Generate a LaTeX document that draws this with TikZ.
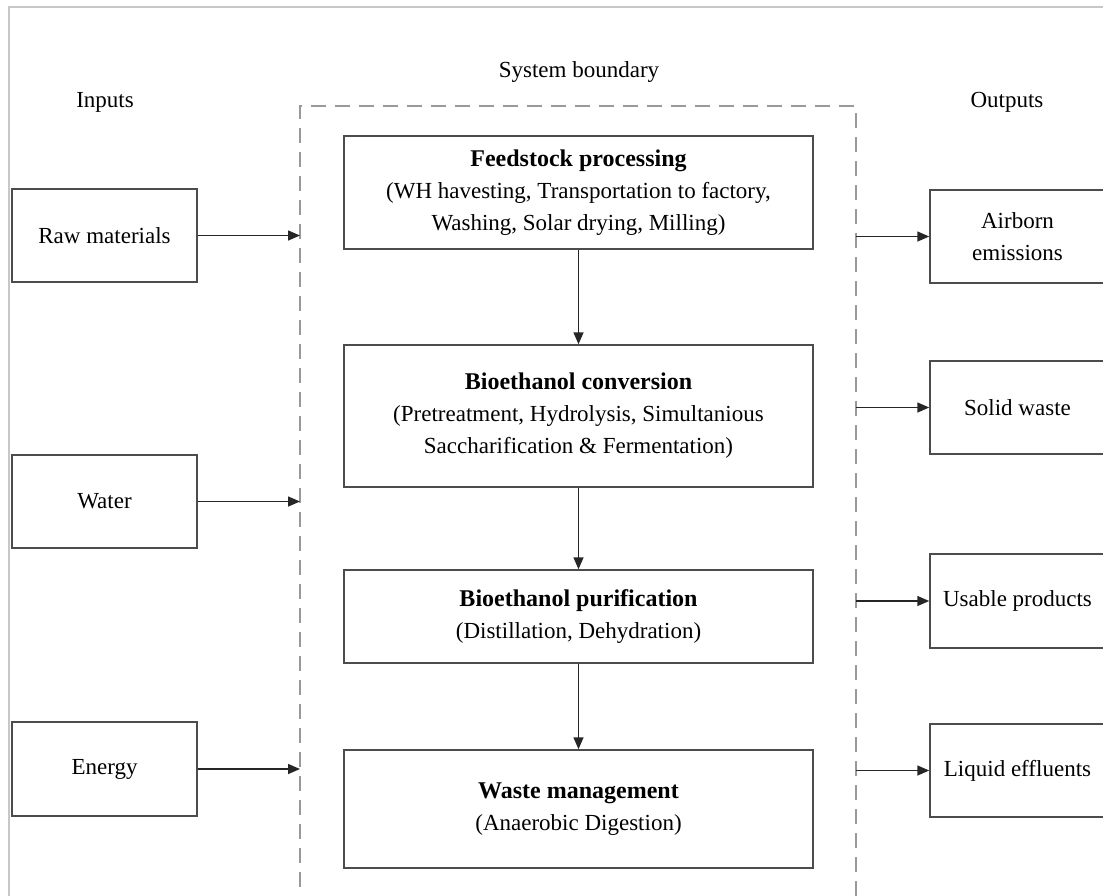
\documentclass[tikz,border=0pt]{standalone}
\usepackage{fontspec}
\setmainfont{Liberation Serif}
\usetikzlibrary{arrows.meta}

\newcommand{\steptitle}[1]{{\fontsize{24}{32}\selectfont\bfseries #1}}

\tikzset{
  box/.style={draw=black!70, line width=1.5pt, rectangle, align=center,
              inner sep=0pt, text=black},
  sidebox/.style={box, minimum width=185pt},
  procbox/.style={box, minimum width=469pt},
  outbox/.style={box, minimum width=175pt},
  flow/.style={draw=black!85, line width=1.5pt,
               -{Triangle[length=12pt,width=10pt]}},
  boundary/.style={draw=black!40, line width=1.5pt, dash pattern=on 15pt off 9pt},
  frame/.style={draw=black!22, line width=1.5pt},
  heading/.style={inner sep=0pt, text=black}
}

\begin{document}
\begin{tikzpicture}[x=1pt, y=-1pt, font=\fontsize{23}{32}\selectfont]
  \useasboundingbox (0,0) rectangle (1103,895);
  \clip (0,0) rectangle (1103,895);

  % outer frame
  \draw[frame] (9,920) -- (9,7) -- (1120,7);

  % system boundary
  \draw[boundary] (856,920) -- (856,106) -- (300,106) -- (300,920);
  \node[heading] (sbl) at (579,72) {System boundary};

  % column headings
  \node[heading] (inl) at (105,102) {Inputs};
  \node[heading] (outl) at (1007,102) {Outputs};

  % inputs
  \node[sidebox, minimum height=93pt] (raw) at (104.5,235.5) {Raw materials};
  \node[sidebox, minimum height=93pt] (water) at (104.5,501.5) {Water};
  \node[sidebox, minimum height=94pt] (energy) at (104.5,769) {Energy};

  % process chain
  \node[procbox, minimum height=113pt] (feed) at (578.5,192.5)
    {\steptitle{Feedstock processing}\\(WH havesting, Transportation to factory,\\Washing, Solar drying, Milling)};
  \node[procbox, minimum height=142pt] (conv) at (578.5,416)
    {\steptitle{Bioethanol conversion}\\(Pretreatment, Hydrolysis, Simultanious\\Saccharification \& Fermentation)};
  \node[procbox, minimum height=93pt] (pur) at (578.5,616.5)
    {\steptitle{Bioethanol purification}\\(Distillation, Dehydration)};
  \node[procbox, minimum height=118pt] (waste) at (578.5,809)
    {\steptitle{Waste management}\\(Anaerobic Digestion)};

  % outputs
  \node[outbox, minimum height=93pt] (air) at (1017.5,236.5) {Airborn\\emissions};
  \node[outbox, minimum height=93pt] (solid) at (1017.5,407.5) {Solid waste};
  \node[outbox, minimum height=94pt] (usable) at (1017.5,601) {Usable products};
  \node[outbox, minimum height=93pt] (liquid) at (1017.5,770.5) {Liquid effluents};

  % points on the boundary
  \coordinate (bin1) at (300,235.5);
  \coordinate (bin2) at (300,501.5);
  \coordinate (bin3) at (300,769);
  \coordinate (bout1) at (856,236.5);
  \coordinate (bout2) at (856,407.5);
  \coordinate (bout3) at (856,601);
  \coordinate (bout4) at (856,770.5);

  % input flows
  \draw[flow] (raw.east) -- (bin1);
  \draw[flow] (water.east) -- (bin2);
  \draw[flow] (energy.east) -- (bin3);

  % process flows
  \draw[flow] (feed.south) -- (conv.north);
  \draw[flow] (conv.south) -- (pur.north);
  \draw[flow] (pur.south) -- (waste.north);

  % output flows
  \draw[flow] (bout1) -- (air.west);
  \draw[flow] (bout2) -- (solid.west);
  \draw[flow] (bout3) -- (usable.west);
  \draw[flow] (bout4) -- (liquid.west);
\end{tikzpicture}
\end{document}
